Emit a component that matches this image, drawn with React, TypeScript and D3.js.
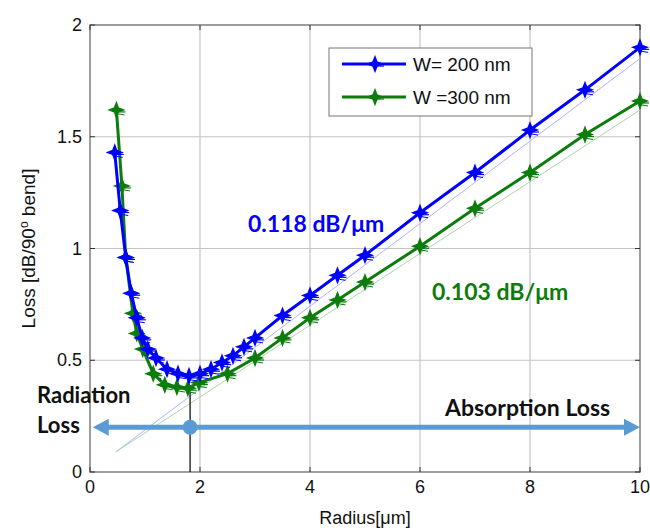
import React from "react";
import * as d3 from "d3";

// W = 200 nm series [radius um, loss dB]
const radiusW200 = [0.45, 0.55, 0.65, 0.75, 0.85, 0.95, 1.05, 1.2, 1.4, 1.6, 1.8, 2.0, 2.2, 2.4, 2.6, 2.8, 3.0, 3.5, 4, 4.5, 5, 6, 7, 8, 9, 10];
const lossW200 = [1.43, 1.17, 0.96, 0.8, 0.69, 0.6, 0.55, 0.51, 0.46, 0.44, 0.43, 0.44, 0.46, 0.49, 0.52, 0.56, 0.6, 0.7, 0.79, 0.88, 0.97, 1.16, 1.34, 1.53, 1.71, 1.9];

// W = 300 nm series
const radiusW300 = [0.48, 0.58, 0.65, 0.78, 0.85, 0.96, 1.15, 1.36, 1.58, 1.78, 1.98, 2.5, 3, 3.5, 4, 4.5, 5, 6, 7, 8, 9, 10];
const lossW300 = [1.62, 1.28, 0.96, 0.71, 0.62, 0.55, 0.44, 0.39, 0.38, 0.375, 0.4, 0.44, 0.51, 0.6, 0.69, 0.77, 0.85, 1.01, 1.18, 1.34, 1.51, 1.66];

// thin linear fits
const fitX = [0.47, 10];
const fitW200 = [0.09, 1.85];
const fitW300 = [0.09, 1.62];

const xTicks = [0, 2, 4, 6, 8, 10];
const yTicks = [0, 0.5, 1, 1.5, 2];

const boundaryRadius = 1.82;
const boundaryLoss = 0.36;
const arrowLoss = 0.2;

const BLUE = "#0000ff";
const GREEN = "#0c7d0c";
const ARROW = "#5b9bd5";

const margin = { top: 25, right: 10, bottom: 56, left: 90 };
const W = 650;
const H = 528;

const x = d3.scaleLinear().domain([0, 10]).range([margin.left, W - margin.right]);
const y = d3.scaleLinear().domain([0, 2]).range([H - margin.bottom, margin.top]);

// 4-point star marker
const star4 = {
  draw(context: any, size: number) {
    const r = Math.sqrt(size);
    const k = r * 0.28;
    context.moveTo(0, -r);
    context.lineTo(k, -k);
    context.lineTo(r, 0);
    context.lineTo(k, k);
    context.lineTo(0, r);
    context.lineTo(-k, k);
    context.lineTo(-r, 0);
    context.lineTo(-k, -k);
    context.closePath();
  },
};
const markerPath = d3.symbol().type(star4 as any).size(50)() as string;

const line = d3
  .line<[number, number]>()
  .x((d) => x(d[0]))
  .y((d) => y(d[1]));

const zip = (a: number[], b: number[]) => a.map((v, i) => [v, b[i]] as [number, number]);

const Series = ({ pts, color }: { pts: [number, number][]; color: string }) => (
  <g>
    <path d={line(pts) as string} fill="none" stroke={color} strokeWidth={3} />
    {pts.map((d, i) => (
      <g key={i} transform={`translate(${x(d[0])},${y(d[1])})`}>
        <path d={markerPath} fill={color} stroke={color} strokeWidth={1.5} />
        <line x1={2} x2={9} y1={2} y2={2} stroke={color} strokeWidth={1.2} />
        <line x1={2} x2={8} y1={4} y2={5} stroke={color} strokeWidth={1} />
      </g>
    ))}
  </g>
);

export default function App() {
  const x0 = margin.left;
  const x1 = W - margin.right;
  const y0 = H - margin.bottom;
  const y1 = margin.top;
  const ya = y(arrowLoss);
  const tickFont = "Liberation Sans, Arial, sans-serif";
  const boldFont = "Lato, Open Sans, sans-serif";

  return (
    <svg width={W} height={H} style={{ position: "absolute", left: 0, top: 0, background: "#fff" }}>
      {/* grid */}
      {xTicks.slice(1, -1).map((t) => (
        <line key={"gx" + t} x1={x(t)} x2={x(t)} y1={y0} y2={y1} stroke="#c4c4c4" strokeWidth={1.2} />
      ))}
      {yTicks.slice(1, -1).map((t) => (
        <line key={"gy" + t} x1={x0} x2={x1} y1={y(t)} y2={y(t)} stroke="#c4c4c4" strokeWidth={1.2} />
      ))}
      {/* box */}
      <rect x={x0} y={y1} width={x1 - x0} height={y0 - y1} fill="none" stroke="#6a6a6a" strokeWidth={1.3} />
      {/* ticks */}
      {xTicks.map((t) => (
        <g key={"tx" + t}>
          <line x1={x(t)} x2={x(t)} y1={y0} y2={y0 - 5} stroke="#333" />
          <line x1={x(t)} x2={x(t)} y1={y1} y2={y1 + 5} stroke="#333" />
          <text x={x(t)} y={y0 + 21} textAnchor="middle" fontFamily={tickFont} fontSize={18} fill="#111">
            {t}
          </text>
        </g>
      ))}
      {yTicks.map((t) => (
        <g key={"ty" + t}>
          <line x1={x0} x2={x0 + 5} y1={y(t)} y2={y(t)} stroke="#333" />
          <line x1={x1} x2={x1 - 5} y1={y(t)} y2={y(t)} stroke="#333" />
          <text x={x0 - 8} y={y(t) + 6} textAnchor="end" fontFamily={tickFont} fontSize={18} fill="#111">
            {t}
          </text>
        </g>
      ))}

      {/* fit lines */}
      <path d={line(zip(fitX, fitW200)) as string} fill="none" stroke="#aab4ff" strokeWidth={1} />
      <path d={line(zip(fitX, fitW300)) as string} fill="none" stroke="#a8d8a8" strokeWidth={1} />

      {/* boundary marker */}
      <line x1={x(boundaryRadius)} x2={x(boundaryRadius)} y1={y0} y2={y(boundaryLoss)} stroke="#111" strokeWidth={1.3} />

      {/* arrow */}
      <line x1={x(0.05) + 14} x2={x(10) - 14} y1={ya} y2={ya} stroke={ARROW} strokeWidth={5} />
      <path d={`M${x(0.05)},${ya} l16,-8.5 v17 z`} fill={ARROW} />
      <path d={`M${x(10)},${ya} l-16,-8.5 v17 z`} fill={ARROW} />
      <circle cx={x(boundaryRadius)} cy={ya} r={7.5} fill={ARROW} />

      {/* series */}
      <Series pts={zip(radiusW300, lossW300)} color={GREEN} />
      <Series pts={zip(radiusW200, lossW200)} color={BLUE} />

      {/* annotations */}
      <text x={248} y={232} fontFamily={boldFont} fontWeight="bold" fontSize={23} fill={BLUE}>
        0.118 dB/μm
      </text>
      <text x={432} y={300} fontFamily={boldFont} fontWeight="bold" fontSize={23} fill={GREEN}>
        0.103 dB/μm
      </text>
      <text x={37} y={403} fontFamily={boldFont} fontWeight="bold" fontSize={22} fill="#111">
        Radiation
      </text>
      <text x={37} y={433} fontFamily={boldFont} fontWeight="bold" fontSize={22} fill="#111">
        Loss
      </text>
      <text x={445} y={416} fontFamily={boldFont} fontWeight="bold" fontSize={23} fill="#111">
        Absorption Loss
      </text>

      {/* legend */}
      <rect x={329} y={48} width={203} height={68} fill="#fff" stroke="#777" strokeWidth={1} />
      {[
        { label: "W= 200 nm", color: BLUE, yy: 64 },
        { label: "W =300 nm", color: GREEN, yy: 97 },
      ].map((d) => (
        <g key={d.label}>
          <line x1={342} x2={406} y1={d.yy} y2={d.yy} stroke={d.color} strokeWidth={3} />
          <g transform={`translate(375,${d.yy})`}>
            <path d={markerPath} fill={d.color} stroke={d.color} strokeWidth={1.5} />
            <line x1={2} x2={9} y1={2} y2={2} stroke={d.color} strokeWidth={1.2} />
          </g>
          <text x={413} y={d.yy + 7} fontFamily={tickFont} fontSize={19} fill="#111">
            {d.label}
          </text>
        </g>
      ))}

      {/* axis labels */}
      <text x={365} y={524} textAnchor="middle" fontFamily={tickFont} fontSize={18} fill="#111">
        Radius[μm]
      </text>
      <text
        transform={`translate(35,${(y0 + y1) / 2}) rotate(-90)`}
        textAnchor="middle"
        fontFamily={tickFont}
        fontSize={19}
        fill="#111"
      >
        Loss [dB/90<tspan dy={-7} fontSize={12}>o</tspan>
        <tspan dy={7}> bend]</tspan>
      </text>
    </svg>
  );
}
